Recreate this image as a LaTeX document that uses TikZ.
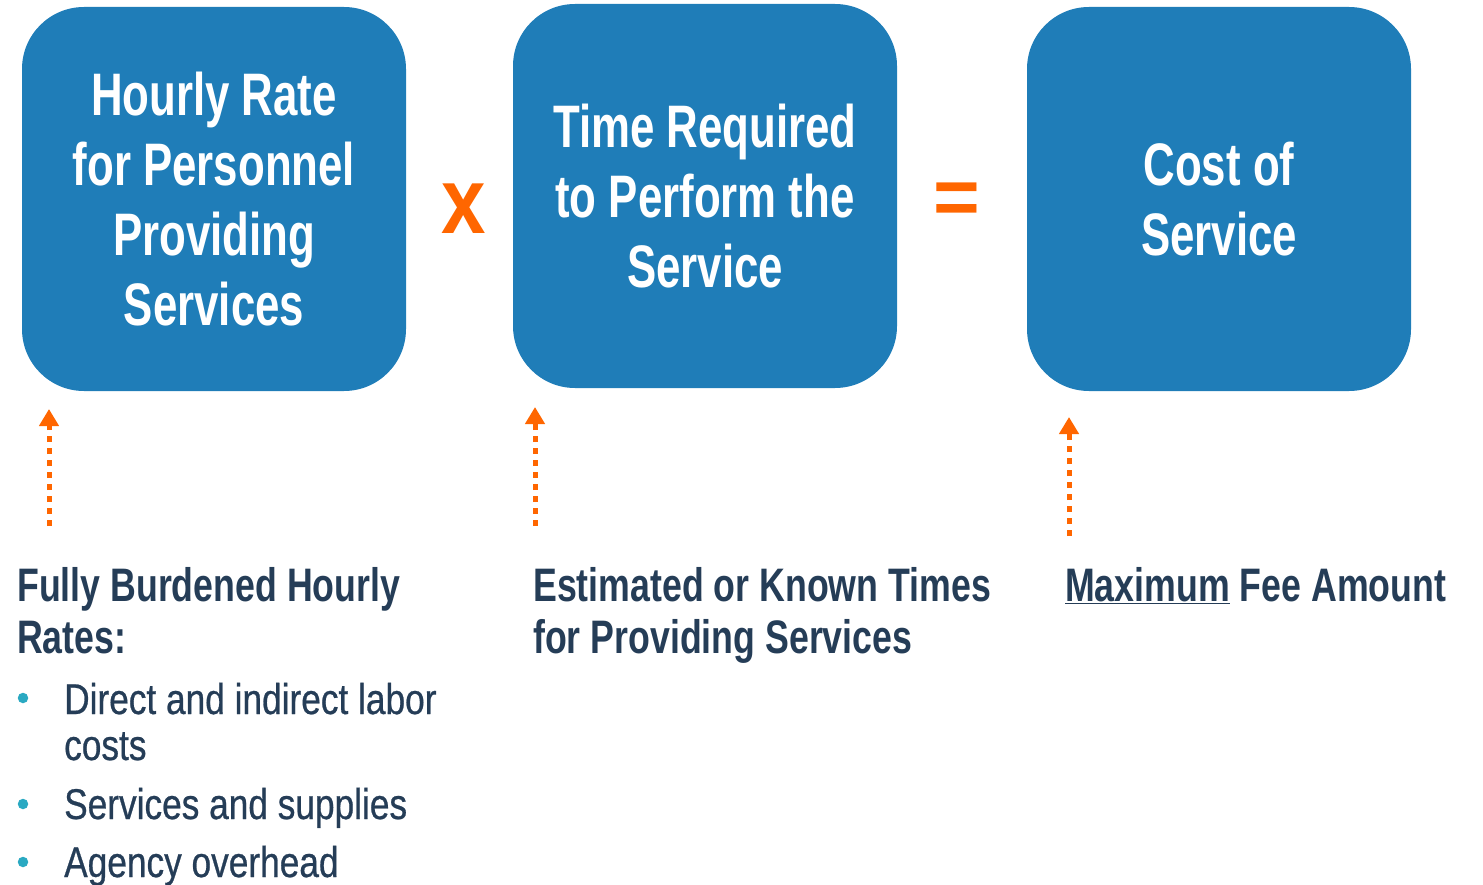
\documentclass[tikz,border=0pt]{standalone}
\usepackage{fontspec}
\setmainfont{Liberation Sans}
\newfontfamily\cond[FakeStretch=0.76]{Liberation Sans}
\newfontfamily\condbox[FakeStretch=0.73]{Liberation Sans}
\newfontfamily\condreg[FakeStretch=0.82,FakeBold=0.6]{Liberation Sans}
\newfontfamily\opfont[FakeStretch=0.85]{Liberation Sans}
\usetikzlibrary{arrows.meta}
\definecolor{boxblue}{HTML}{1F7DB8}
\definecolor{orng}{HTML}{FF6600}
\definecolor{navy}{HTML}{253D57}
\definecolor{teal}{HTML}{2AA9C2}
\tikzset{
  bigbox/.style={fill=boxblue, rounded corners=62pt, minimum width=384pt, minimum height=384pt, inner sep=0pt,
    text=white, align=center, font=\condbox\bfseries\fontsize{60}{70}\selectfont},
  upar/.style={draw=orng, line width=5pt, dash pattern=on 6pt off 6pt, -{Triangle[width=19pt,length=17pt]}},
  headtxt/.style={anchor=base west, text=navy, align=left, inner sep=0pt, font=\cond\bfseries\fontsize{47}{52}\selectfont},
  bultxt/.style={anchor=base west, text=navy, align=left, inner sep=0pt, font=\condreg\fontsize{43}{46}\selectfont},
  bul/.style={circle, fill=teal, minimum size=10.5pt, inner sep=0pt},
  op/.style={text=orng, font=\opfont\bfseries\fontsize{94}{94}\selectfont, inner sep=0pt},
  opeq/.style={text=orng, font=\bfseries\fontsize{80}{80}\selectfont, inner sep=0pt}
}
\begin{document}
\begin{tikzpicture}[x=1pt,y=-1pt]
\path[use as bounding box] (0,0) rectangle (1483,885);
\node[bigbox] (b1) at (214,199) {Hourly Rate\\for Personnel\\Providing\\Services};
\node[bigbox] (b2) at (705,196) {Time Required\\to Perform the\\Service};
\node[bigbox] (b3) at (1219,199) {Cost of\\Service};
\node[op] (times) at (464,209) {x};
\node[opeq] (eq) at (957,204) {=};
\coordinate (a1s) at (49,526); \coordinate (a1e) at (49,409);
\coordinate (a2s) at (535,526); \coordinate (a2e) at (535,407);
\coordinate (a3s) at (1069,536); \coordinate (a3e) at (1069,417);
\draw[upar] (a1s) -- (a1e);
\draw[upar] (a2s) -- (a2e);
\draw[upar] (a3s) -- (a3e);
\node[headtxt] (t1) at (17,653) {Fully Burdened Hourly\\Rates:};
\node[headtxt] (t2) at (533,653) {Estimated or Known Times\\for Providing Services};
\node[headtxt] (t3) at (1065,601) {\underline{Maximum} Fee Amount};
\node[bultxt] (l1) at (64,760) {Direct and indirect labor\\costs};
\node[bultxt] (l2) at (64,819) {Services and supplies};
\node[bultxt] (l3) at (64,877) {Agency overhead};
\node[bul] (d1) at (23,698) {};
\node[bul] (d2) at (23,804) {};
\node[bul] (d3) at (23,862) {};
\end{tikzpicture}
\end{document}
